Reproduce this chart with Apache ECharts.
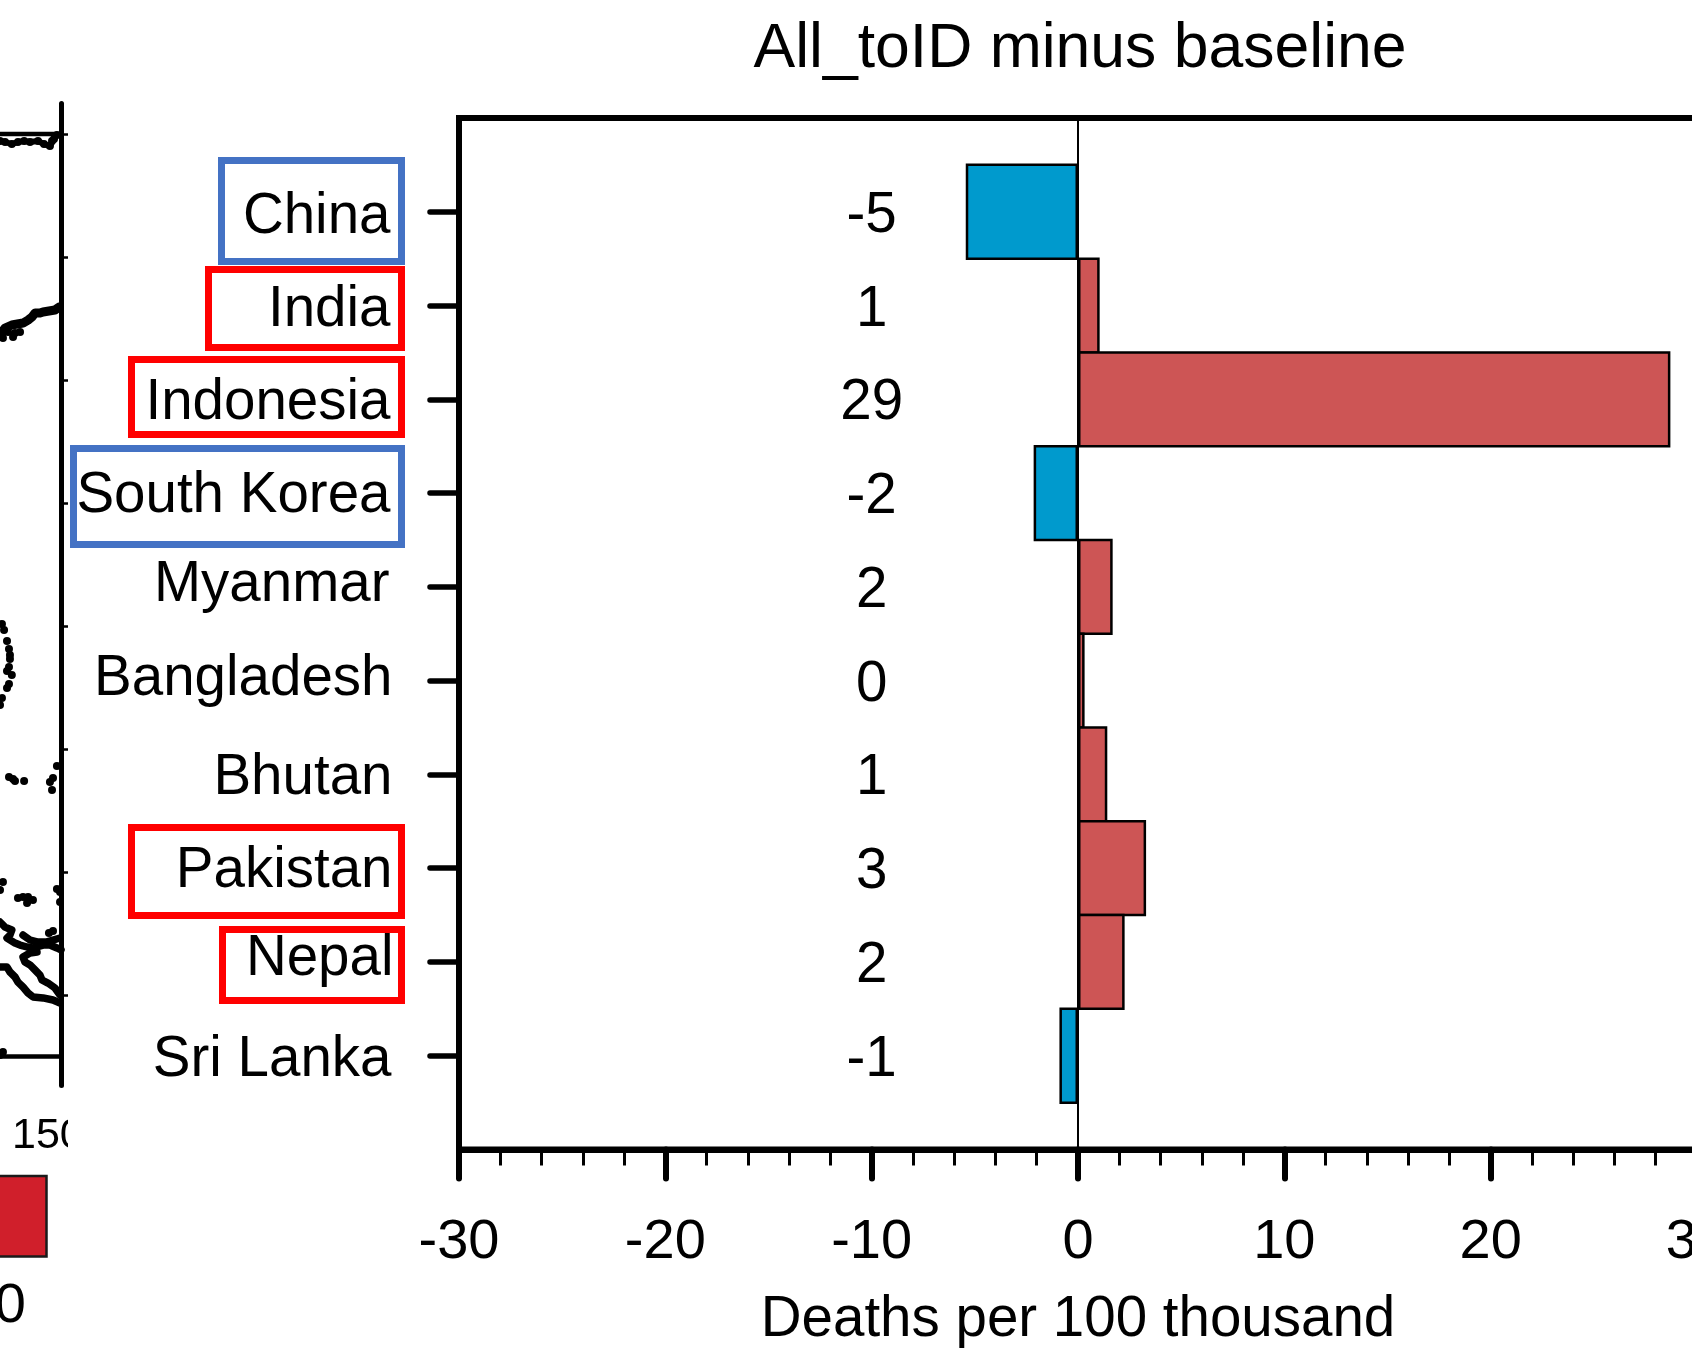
<!DOCTYPE html>
<html><head><meta charset="utf-8">
<style>html,body{margin:0;padding:0;background:#fff}#c{width:1692px;height:1348px}</style>
<script src="https://cdn.jsdelivr.net/npm/echarts@6/dist/echarts.min.js"></script>
</head><body><div id="c"></div>
<script>
const countries = ['China','India','Indonesia','South Korea','Myanmar','Bangladesh','Bhutan','Pakistan','Nepal','Sri Lanka'];
const deaths = [-5.44,1.05,28.71,-2.15,1.68,0.32,1.42,3.3,2.26,-0.9];
const printed = ['-5','1','29','-2','2','0','1','3','2','-1'];
const printedAtX = -10;
const labelPadTop = [11,9,9,6.5,0,0,9,6.5,0,9];
const labelPadBottom = [0,0,0,0,2,2,0,0,4.5,0];
const labelPadRight = [3,3,3,3,4,1,1,1,0,2];

// map strip to the left, lon/lat
const mapDots = [
[145.04,59.43],[145.45,59.35],[146.0,59.18],[146.5,59.35],[147.0,59.43],[147.48,59.35],[148.13,59.43],[148.62,59.18],[149.1,59.02],[149.27,59.43],[149.43,59.59],[149.67,59.92],
[145.28,43.41],[145.69,43.9],[146.1,43.49],[146.26,43.82],[146.67,43.9],
[145.2,20.16],[145.37,19.67],[145.61,18.78],[145.77,18.13],[145.85,17.64],[145.85,17.31],[145.77,16.66],[145.61,16.34],[146.0,16.01],[145.77,15.28],[145.61,14.96],[145.2,14.14],[145.04,13.57],
[145.77,7.72],[146.1,7.56],[146.26,7.4],[147.0,7.4],[149.67,8.62],[149.35,7.64],[149.1,7.31],[149.27,6.66],
[145.28,-0.82],[145.04,-1.47],[146.5,-2.12],[146.91,-2.04],[147.32,-2.04],[147.72,-2.28],[147.24,-2.52],[149.67,-1.39],[149.92,-1.63],[149.92,-2.44],[149.35,-4.8],[149.02,-4.96],
[145.28,-14.64],[145.04,-14.88]
];
const coastTop = [[145.04,59.43],[145.45,59.35],[146.0,59.18],[146.5,59.35],[147.0,59.43],[147.48,59.35],[148.13,59.43],[148.62,59.18],[149.1,59.02],[149.43,59.59],[149.67,59.92]];
const coastKuril = [[145.04,43.65],[145.2,43.9],[145.45,44.22],[146.0,44.47],[146.91,44.63],[147.32,44.87],[147.64,45.12],[147.89,45.44],[148.29,45.44],[148.54,45.53],[149.51,45.69],[149.84,45.93]];
const coast1 = [[145.04,-4.07],[145.45,-4.48],[146.0,-4.72],[145.85,-5.13],[145.61,-5.37],[146.26,-5.78],[146.67,-5.94],[147.24,-6.1],[147.72,-6.18],[148.54,-5.94],[149.1,-5.94],[149.67,-6.18],[150,-6.34]];
const coast2 = [[146.91,-5.13],[147.48,-5.53],[148.05,-5.69],[148.86,-5.69],[149.92,-5.37]];
const coast3 = [[148.05,-6.51],[147.48,-6.59],[146.91,-6.92],[147.07,-7.32],[147.48,-7.56],[147.89,-7.97],[148.29,-8.38],[148.45,-8.78],[148.94,-9.03],[149.51,-9.43],[149.92,-10.0]];
const coast4 = [[145.04,-7.73],[145.61,-7.73],[145.85,-8.13],[146.26,-8.54],[146.5,-8.95],[146.91,-9.35],[147.32,-9.84],[147.72,-10.16],[148.54,-10.24],[149.35,-10.41],[149.92,-10.65]];
const frameTop = [[145.04,60],[150,60]];
const frameBottom = [[145.04,-15],[150,-15]];
const latTicks = [-10,0,10,20,30,40,50,60];

const FONT = '"Liberation Sans", Arial, Helvetica, sans-serif';
const RED = '#CD5555', BLUE = '#009ACD';

const catAxis = [''].concat(countries).concat(['']);
const labelRich = {};
countries.forEach((c,i)=>{
  labelRich['c'+i] = {fontFamily:FONT,fontSize:56.5,color:'#000',
    padding:[labelPadTop[i],labelPadRight[i],labelPadBottom[i],0]};
});

const box = (x0,y0,x1,y1,color)=>({type:'rect',z:0,silent:true,
  shape:{x:x0+3.5,y:y0+3.5,width:x1-x0-7,height:y1-y0-7},
  style:{fill:'none',stroke:color,lineWidth:7}});

const coastSeries = (d,w)=>({type:'line',xAxisIndex:1,yAxisIndex:1,data:d,showSymbol:false,silent:true,
  lineStyle:{color:'#000',width:w||7.5,cap:'round',join:'round'},animation:false});
const frameSeries = d=>({type:'line',xAxisIndex:1,yAxisIndex:1,data:d,showSymbol:false,silent:true,
  lineStyle:{color:'#000',width:4.5},animation:false});

const chart = echarts.init(document.getElementById('c'),null,{renderer:'canvas'});
chart.setOption({
  animation:false,
  backgroundColor:'#fff',
  title:{text:'All_toID minus baseline',left:1075,top:13,textAlign:'center',
    textStyle:{fontFamily:FONT,fontSize:62.5,fontWeight:'normal',color:'#000'}},
  grid:[
    {left:459,top:118,width:1238,height:1031.5,show:true,borderColor:'#000',borderWidth:6,backgroundColor:'transparent',outerBoundsMode:'none'},
    {left:0,top:103.5,width:61,height:982,outerBoundsMode:'none'}
  ],
  xAxis:[
    {type:'value',gridIndex:0,min:-30,max:30,interval:10,
     axisLine:{show:true,onZero:false,lineStyle:{color:'#000',width:6}},
     axisTick:{show:true,length:29,lineStyle:{color:'#000',width:6,cap:'round'}},
     minorTick:{show:true,splitNumber:5,length:16,lineStyle:{color:'#000',width:3}},
     splitLine:{show:false},minorSplitLine:{show:false},
     axisLabel:{show:true,margin:65,fontFamily:FONT,fontSize:56,color:'#000',showMinLabel:true,showMaxLabel:true,hideOverlap:false},
     name:'Deaths per 100 thousand',nameLocation:'middle',nameGap:142,
     nameTextStyle:{fontFamily:FONT,fontSize:56.5,color:'#000'},
     position:'bottom'},
    {type:'value',gridIndex:1,min:145.04,max:150,show:false}
  ],
  yAxis:[
    {type:'category',gridIndex:0,data:catAxis,inverse:true,boundaryGap:false,
     axisLine:{show:true,onZero:false,lineStyle:{color:'#000',width:6}},
     axisTick:{show:true,length:29,interval:(i,v)=>v!=='',lineStyle:{color:'#000',width:5.5,cap:'round'}},
     splitLine:{show:false},
     axisLabel:{show:true,interval:0,margin:65.5,fontFamily:FONT,fontSize:56.5,color:'#000',align:'right',
       formatter:(v)=>{const i=countries.indexOf(v);return i<0?'':'{c'+i+'|'+v+'}';},
       rich:labelRich,
       showMinLabel:true,showMaxLabel:true,hideOverlap:false}},
    {type:'value',gridIndex:1,min:-17.36,max:62.48,position:'right',
     axisLine:{show:true,onZero:false,lineStyle:{color:'#000',width:5,cap:'round'}},
     axisTick:{show:true,inside:false,length:7,customValues:latTicks,lineStyle:{color:'#000',width:2.5}},
     axisLabel:{show:false},splitLine:{show:false}}
  ],
  series:[
    {type:'bar',xAxisIndex:0,yAxisIndex:0,barWidth:'102.7%',z:3,
     data:[null].concat(deaths.map(v=>({value:v,itemStyle:{color:v<0?BLUE:RED}}))).concat([null]),
     itemStyle:{borderColor:'#000',borderWidth:2.5},
     markLine:{silent:true,symbol:'none',animation:false,label:{show:false},
       lineStyle:{color:'#000',width:2,type:'solid'},data:[{xAxis:0}]}},
    {type:'scatter',xAxisIndex:0,yAxisIndex:0,symbolSize:0,silent:true,z:4,
     itemStyle:{opacity:1},
     data:printed.map((t,i)=>({value:[printedAtX,i+1],name:t})),
     label:{show:true,position:'inside',formatter:p=>p.name,fontFamily:FONT,fontSize:56.5,color:'#000',opacity:1,offset:[0,4.5]}},
    frameSeries(frameTop),frameSeries(frameBottom),
    coastSeries(coastTop,6),coastSeries(coastKuril,9),
    coastSeries(coast1),coastSeries(coast2),coastSeries(coast3),coastSeries(coast4),
    {type:'scatter',xAxisIndex:1,yAxisIndex:1,data:mapDots,symbolSize:8,silent:true,itemStyle:{color:'#000',opacity:1}}
  ],
  graphic:[
    box(218,157,405,265,'#4472C4'),
    box(205,266,405,351,'#FF0000'),
    box(128,356,405,438,'#FF0000'),
    box(70,445,405,548,'#4472C4'),
    box(128,824,405,919,'#FF0000'),
    box(219,926,405,1004,'#FF0000'),
    {type:'text',z:10,silent:true,style:{x:12,y:1136,text:'150',fill:'#000',font:'43px '+FONT,textAlign:'left',textVerticalAlign:'middle'}},
    {type:'rect',z:11,silent:true,shape:{x:68,y:1100,width:30,height:60},style:{fill:'#fff'}},
    {type:'rect',z:10,silent:true,shape:{x:-6,y:1176,width:52.5,height:80.5},style:{fill:'#D01F2B',stroke:'#1a1a1a',lineWidth:2.5}},
    {type:'text',z:10,silent:true,style:{x:26,y:1307,text:'0',fill:'#000',font:'56px '+FONT,textAlign:'right',textVerticalAlign:'middle'}}
  ]
});
</script></body></html>
